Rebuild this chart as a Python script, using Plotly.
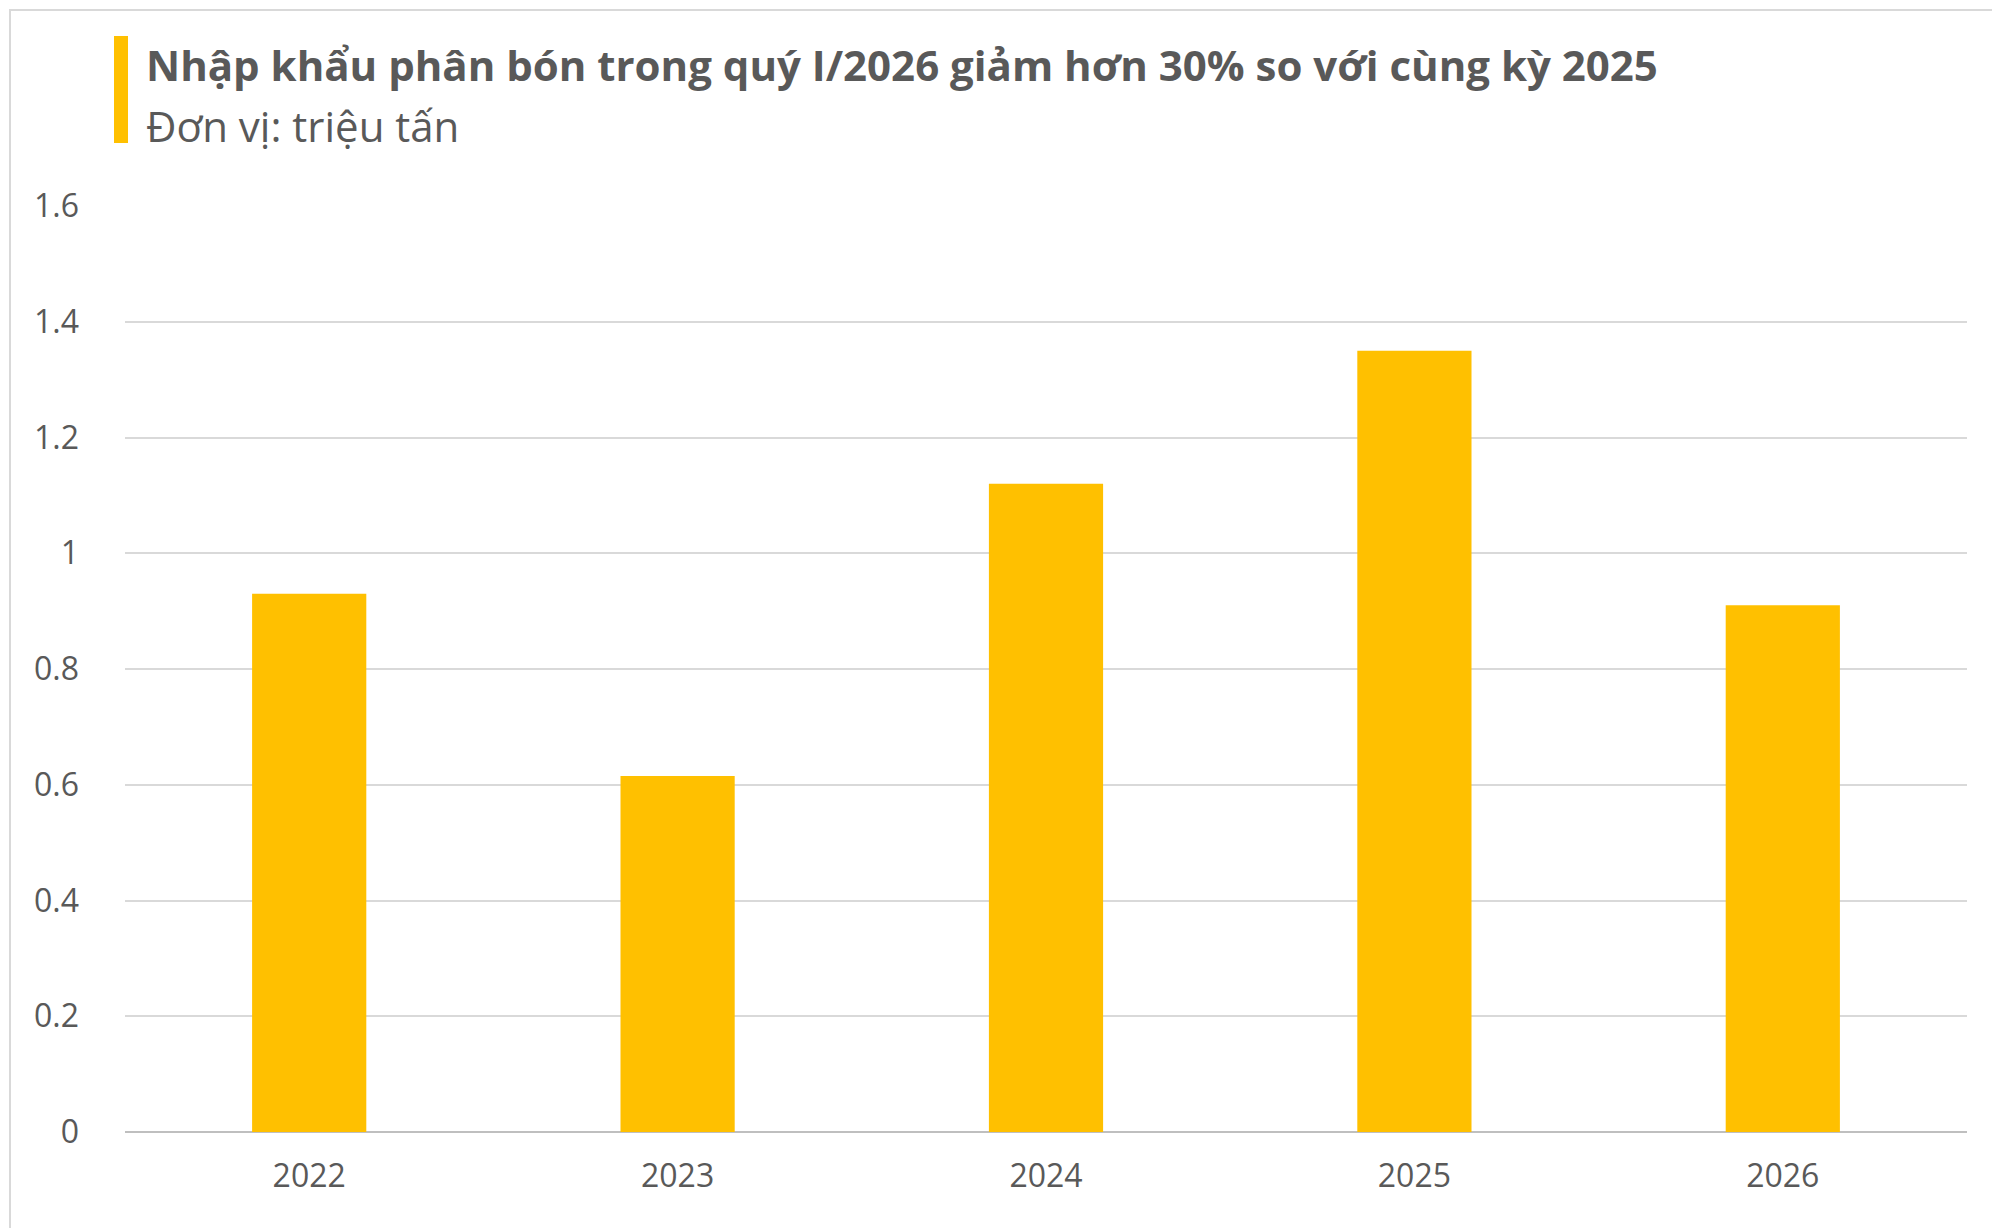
import plotly.graph_objects as go

# data
years = ['2022', '2023', '2024', '2025', '2026']
imports = [0.93, 0.615, 1.12, 1.35, 0.91]

PW, PH = 1842, 926  # plot area size in px

fig = go.Figure()
fig.add_trace(go.Bar(x=years, y=imports, marker_color='#FFC000', marker_line_width=0))

fig.update_layout(
    width=2000, height=1228,
    paper_bgcolor='white', plot_bgcolor='white',
    margin=dict(l=117, r=41, t=198, b=104),
    bargap=0.69, showlegend=False,
    font=dict(family='Open Sans', color='#595959', size=32),
)
fig.update_yaxes(range=[0, 1.6], dtick=0.2, tickformat='~g', gridcolor='#D9D9D9', gridwidth=2,
                 zeroline=True, zerolinecolor='#BFBFBF', zerolinewidth=2, ticks='', ticklabelstandoff=45)
fig.update_xaxes(showline=False, ticks='', ticklabelstandoff=22)

# title accent bar and text
fig.add_shape(type='rect', xref='paper', yref='paper', x0=(106-117)/PW, x1=(120-117)/PW,
              y0=1+(198-135)/PH, y1=1+(198-28)/PH, fillcolor='#FFC000', line_width=0)
fig.add_annotation(xref='paper', yref='paper', x=(136-117)/PW, y=1+(198-56)/PH, xanchor='left', yanchor='middle',
                   text='<b>Nhập khẩu phân bón trong quý I/2026 giảm hơn 30% so với cùng kỳ 2025</b>',
                   showarrow=False, font=dict(size=42, color='#595959'))
fig.add_annotation(xref='paper', yref='paper', x=(136-117)/PW, y=1+(198-117)/PH, xanchor='left', yanchor='middle',
                   text='Đơn vị: triệu tấn', showarrow=False, font=dict(size=42, color='#595959'))
# outer border
fig.add_shape(type='rect', xref='paper', yref='paper', x0=-115/PW, x1=1+39/PW, y0=-102/PH, y1=1+196/PH,
              line=dict(color='#D9D9D9', width=2))

fig.write_html("out.html")
